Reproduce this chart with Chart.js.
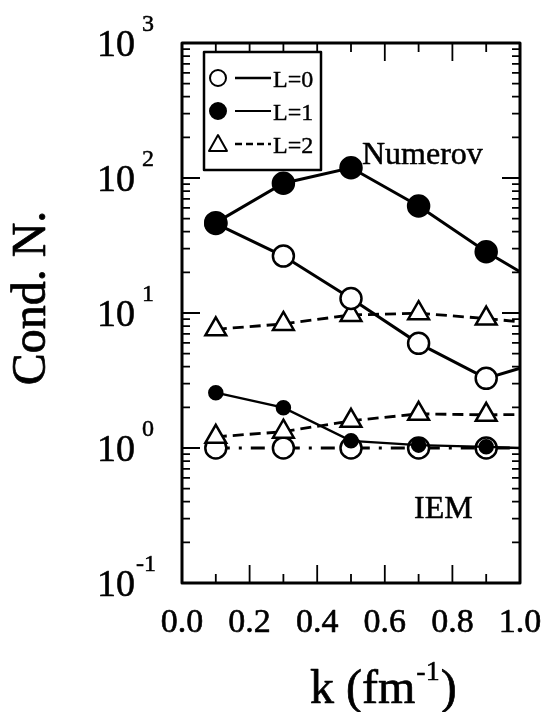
<!DOCTYPE html>
<html>
<head>
<meta charset="utf-8">
<script src="https://cdn.jsdelivr.net/npm/chart.js@4/dist/chart.umd.min.js"></script>
<style>
  html, body { margin: 0; padding: 0; background: #fff; }
  #wrap { width: 548px; height: 712px; }
</style>
</head>
<body>
<div id="wrap"><canvas id="myChart"></canvas></div>
<script>
// k values (fm^-1), last one is only the line end at the frame edge
const kVals = [0.1, 0.3, 0.5, 0.7, 0.9, 1.0];

// Numerov condition numbers
const numL0 = [46, 26.4, 12.8, 5.96, 3.28, 3.9];
const numL1 = [46.7, 91.4, 119, 62, 28.4, 20.2];
const numL2 = [7.57, 8.3, 9.67, 9.96, 9.1, 8.6];

// IEM condition numbers
const iemL0 = [1.0, 1.0, 1.0, 1.0, 1.0, 1.0];
const iemL1 = [2.57, 1.99, 1.13, 1.05, 1.02, 1.0];
const iemL2 = [1.21, 1.32, 1.59, 1.79, 1.76, 1.77];

const xTicks = [0.0, 0.2, 0.4, 0.6, 0.8, 1.0];
const yDecades = [-1, 0, 1, 2, 3];
const legendItems = ['L=0', 'L=1', 'L=2'];

const SERIF = '"Liberation Serif", "DejaVu Serif", serif';

let pts = (ys) => kVals.map((k, i) => ({ x: k, y: ys[i] }));
// no marker on the edge point
let radii = (r) => kVals.map((k) => (k >= 1.0 ? 0 : r));

let makeSet = (label, ys, style) => Object.assign({
  label: label,
  data: pts(ys),
  borderColor: '#000',
  pointBorderColor: '#000',
  pointBorderWidth: 2.5,
  tension: 0,
  fill: false,
  clip: false
}, style);

const datasets = [
  makeSet('Numerov L=2', numL2, { borderWidth: 2.8, borderDash: [11, 6], pointStyle: 'triangle', pointRadius: radii(12), pointBackgroundColor: '#fff', order: 5 }),
  makeSet('Numerov L=0', numL0, { borderWidth: 3, pointStyle: 'circle', pointRadius: radii(10.5), pointBackgroundColor: '#fff', order: 4 }),
  makeSet('Numerov L=1', numL1, { borderWidth: 3, pointStyle: 'circle', pointRadius: radii(10.5), pointBackgroundColor: '#000', order: 3 }),
  makeSet('IEM L=0', iemL0, { borderWidth: 2.8, borderDash: [14, 9, 3, 9], pointStyle: 'circle', pointRadius: radii(10.5), pointBackgroundColor: '#fff', order: 6 }),
  makeSet('IEM L=2', iemL2, { borderWidth: 2.8, borderDash: [11, 6], pointStyle: 'triangle', pointRadius: radii(12), pointBackgroundColor: '#fff', order: 2 }),
  makeSet('IEM L=1', iemL1, { borderWidth: 2.4, pointStyle: 'circle', pointRadius: radii(6.5), pointBackgroundColor: '#000', order: 1 })
];

// filled text with a thin outline, to get the heavier print look
let text = (ctx, s, x, y, size, w) => {
  ctx.font = size + 'px ' + SERIF;
  ctx.lineWidth = w;
  ctx.fillText(s, x, y);
  ctx.strokeText(s, x, y);
};

// frame, inward ticks, labels, legend and annotations
const decor = {
  id: 'decor',
  afterDraw(chart) {
    const ctx = chart.ctx;
    const a = chart.chartArea;
    const xs = chart.scales.x;
    const ys = chart.scales.y;
    ctx.save();
    ctx.strokeStyle = '#000';
    ctx.fillStyle = '#000';
    ctx.lineJoin = 'round';

    // ticks
    ctx.lineWidth = 1.8;
    ctx.beginPath();
    for (let i = 0; i <= 10; i++) {
      const px = xs.getPixelForValue(i / 10);
      const len = i % 2 === 0 ? 18 : 9;
      ctx.moveTo(px, a.bottom); ctx.lineTo(px, a.bottom - len);
      ctx.moveTo(px, a.top); ctx.lineTo(px, a.top + len);
    }
    for (let d = -1; d < 3; d++) {
      for (let m = 1; m <= 9; m++) {
        const py = ys.getPixelForValue(m * Math.pow(10, d));
        const len = m === 1 ? 18 : 8;
        ctx.moveTo(a.left, py); ctx.lineTo(a.left + len, py);
        ctx.moveTo(a.right, py); ctx.lineTo(a.right - len, py);
      }
    }
    ctx.stroke();

    // frame
    ctx.lineWidth = 3;
    ctx.strokeRect(a.left, a.top, a.right - a.left, a.bottom - a.top);

    // x tick labels
    ctx.textAlign = 'center';
    ctx.textBaseline = 'alphabetic';
    xTicks.forEach((v) => {
      text(ctx, v.toFixed(1), xs.getPixelForValue(v), 632, 34, 0.6);
    });

    // y tick labels 10^n
    yDecades.forEach((d) => {
      const py = ys.getPixelForValue(Math.pow(10, d));
      ctx.textAlign = 'right';
      text(ctx, '10', 135, py + 13, 38, 0.6);
      ctx.textAlign = 'left';
      text(ctx, String(d), d < 0 ? 136 : 142, py - 12, 24, 0.5);
    });

    // x title
    ctx.textAlign = 'left';
    const t1 = 'k (fm';
    text(ctx, t1, 310, 703, 48, 0.7);
    let x = 310 + ctx.measureText(t1).width + 1;
    text(ctx, '-1', x, 680, 28, 0.5);
    x += ctx.measureText('-1').width + 1;
    text(ctx, ')', x, 703, 48, 0.7);

    // y title
    ctx.save();
    ctx.translate(45, 298);
    ctx.rotate(-Math.PI / 2);
    ctx.textAlign = 'center';
    text(ctx, 'Cond. N.', 0, 0, 48, 0.7);
    ctx.restore();

    // annotations
    ctx.textAlign = 'left';
    text(ctx, 'Numerov', 362, 164, 32, 0.5);
    text(ctx, 'IEM', 414, 518, 32, 0.5);

    // legend box
    ctx.fillStyle = '#fff';
    ctx.fillRect(204, 52, 117, 118);
    ctx.fillStyle = '#000';
    ctx.lineWidth = 2.5;
    ctx.strokeRect(204, 52, 117, 118);
    const rows = [78, 111, 144];
    legendItems.forEach((txt, i) => {
      const y = rows[i];
      ctx.lineWidth = 2;
      ctx.beginPath();
      if (i === 2) {
        ctx.moveTo(218, y - 9); ctx.lineTo(227, y + 7); ctx.lineTo(209, y + 7); ctx.closePath();
        ctx.fillStyle = '#fff'; ctx.fill(); ctx.stroke();
      } else {
        ctx.arc(218, y, 8, 0, Math.PI * 2);
        ctx.fillStyle = i === 1 ? '#000' : '#fff';
        ctx.fill(); ctx.stroke();
      }
      ctx.fillStyle = '#000';
      ctx.lineWidth = i === 1 ? 2 : 2.5;
      ctx.setLineDash(i === 2 ? [7, 4] : []);
      ctx.beginPath();
      ctx.moveTo(235, y); ctx.lineTo(271, y);
      ctx.stroke();
      ctx.setLineDash([]);
      text(ctx, txt, 273, y + 9, 24, 0.4);
    });
    ctx.restore();
  }
};

const config = {
  type: 'line',
  data: { datasets: datasets },
  options: {
    responsive: true,
    maintainAspectRatio: false,
    animation: false,
    layout: { padding: { left: 182, right: 28, top: 43, bottom: 129 } },
    plugins: { legend: { display: false }, tooltip: { enabled: false } },
    scales: {
      x: { type: 'linear', min: 0, max: 1, display: false },
      y: { type: 'logarithmic', min: 0.1, max: 1000, display: false }
    }
  },
  plugins: [decor]
};

const chart = new Chart(document.getElementById('myChart'), config);
</script>
</body>
</html>
